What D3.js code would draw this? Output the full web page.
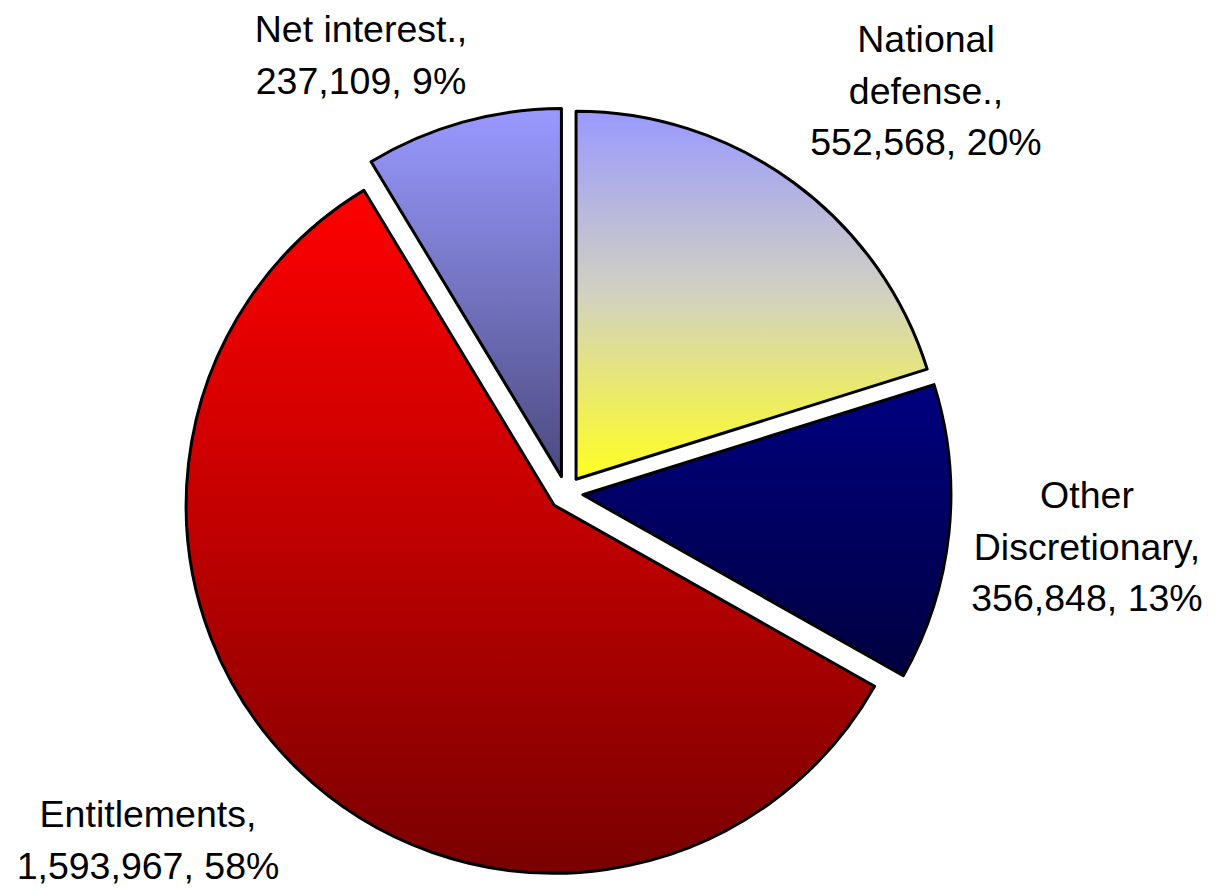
<!DOCTYPE html>
<meta charset="utf-8">
<style>
body { margin: 0; background: #fff; }
text {
  font-family: "Liberation Sans", Arial, sans-serif;
  font-size: 37.5px;
  fill: #000;
}
</style>
<svg width="1216" height="889"></svg>
<script src="https://d3js.org/d3.v7.min.js"></script>
<script>

var categories = ["National defense.", "Other Discretionary", "Entitlements", "Net interest."];
var values = [552568, 356848, 1593967, 237109];
var percents = ["20%", "13%", "58%", "9%"];
// gradient stops, top -> middle -> bottom of each slice
var topColors = ["#9999ff", "#000080", "#ff0000", "#9999ff"];
var midColors = ["#d2d2c0", "#000060", "#c00000", "#7373c0"];
var bottomColors = ["#ffff20", "#000040", "#7a0000", "#4a4a80"];

// label lines as wrapped in the picture
var labelLines = [
  ["National", "defense.,", "552,568, 20%"],
  ["Other", "Discretionary,", "356,848, 13%"],
  ["Entitlements,", "1,593,967, 58%"],
  ["Net interest.,", "237,109, 9%"]
];
var labelAt = [[926, 52], [1087, 508], [148, 827], [361, 42]];

var svg = d3.select("svg"),
    cx = 566, cy = 493,
    radius = 368,
    explode = 17,
    lineH = 51.5;

var pie = d3.pie().sort(null).value(function(d) { return d; });
var arc = d3.arc().innerRadius(0).outerRadius(radius);
var arcs = pie(values);

var defs = svg.append("defs");
arcs.forEach(function(d, i) {
  var g = defs.append("linearGradient")
      .attr("id", "grad" + i)
      .attr("x1", 0).attr("y1", 0).attr("x2", 0).attr("y2", 1);
  g.append("stop").attr("offset", "0%").attr("stop-color", topColors[i]);
  g.append("stop").attr("offset", "50%").attr("stop-color", midColors[i]);
  g.append("stop").attr("offset", "100%").attr("stop-color", bottomColors[i]);
});

var g = svg.append("g").attr("transform", "translate(" + cx + "," + cy + ")");

g.selectAll("path.slice")
  .data(arcs)
  .enter().append("path")
    .attr("class", "slice")
    .attr("d", arc)
    .attr("transform", function(d) {
      var a = (d.startAngle + d.endAngle) / 2;
      return "translate(" + (Math.sin(a) * explode) + "," + (-Math.cos(a) * explode) + ")";
    })
    .attr("fill", function(d, i) { return "url(#grad" + i + ")"; })
    .attr("stroke", "#000")
    .attr("stroke-width", 3)
    .attr("stroke-linejoin", "round");

var labels = svg.selectAll("text.lbl")
  .data(labelLines)
  .enter().append("text")
    .attr("class", "lbl")
    .attr("text-anchor", "middle")
    .attr("x", function(d, i) { return labelAt[i][0]; })
    .attr("y", function(d, i) { return labelAt[i][1]; });

labels.selectAll("tspan")
  .data(function(d, i) { return d.map(function(t) { return {t: t, i: i}; }); })
  .enter().append("tspan")
    .attr("x", function(d) { return labelAt[d.i][0]; })
    .attr("dy", function(d, j) { return j === 0 ? 0 : lineH; })
    .text(function(d) { return d.t; });

</script>
